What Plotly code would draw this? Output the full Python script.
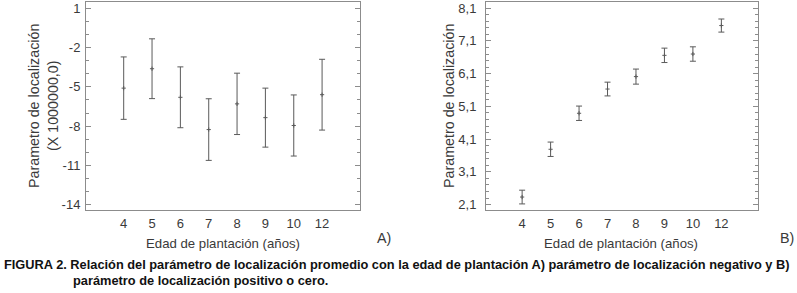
import plotly.graph_objects as go

ages = ["4", "5", "6", "7", "8", "9", "10", "12"]
neg_mean = [-5.10, -3.62, -5.80, -8.26, -6.30, -7.35, -7.95, -5.60]
neg_err = [2.38, 2.28, 2.32, 2.35, 2.34, 2.25, 2.33, 2.70]
pos_mean = [2.33, 3.79, 4.89, 5.63, 6.01, 6.66, 6.70, 7.57]
pos_err = [0.21, 0.22, 0.22, 0.21, 0.23, 0.22, 0.22, 0.20]
neg_ticks = [1, -2, -5, -8, -11, -14]
neg_labels = ["1", "-2", "-5", "-8", "-11", "-14"]
pos_ticks = [2.1, 3.1, 4.1, 5.1, 6.1, 7.1, 8.1]
pos_labels = ["2,1", "3,1", "4,1", "5,1", "6,1", "7,1", "8,1"]

W, H = 797, 293
def px(x): return x / W
def py(y): return (H - y) / H

fig = go.Figure()
bar_col = "#5a5a5a"
for m, e, ax in [(neg_mean, neg_err, ("x", "y")), (pos_mean, pos_err, ("x2", "y2"))]:
    fig.add_trace(go.Scatter(
        x=ages, y=m, mode="markers", xaxis=ax[0], yaxis=ax[1],
        marker=dict(symbol="cross-thin", size=3, color=bar_col, line=dict(width=1, color=bar_col)),
        error_y=dict(type="data", array=e, visible=True, color=bar_col, thickness=1, width=3),
        showlegend=False, hoverinfo="skip"))

axcol = "#8c8c8c"
txtcol = "#3a3a3a"
font_main = "Liberation Sans, Arial, sans-serif"
tickfont = dict(family=font_main, size=13, color=txtcol)
common_x = dict(type="category", showline=True, linecolor=axcol, linewidth=1, mirror=True,
                ticks="", showgrid=False, zeroline=False, tickfont=tickfont, ticklabelstandoff=2,
                ticklabeloverflow="allow")
common_y = dict(showline=True, linecolor=axcol, linewidth=1, mirror="ticks",
                ticks="inside", ticklen=5, tickcolor=axcol, showgrid=False, zeroline=False,
                tickfont=tickfont, ticklabeloverflow="allow")

fig.update_layout(
    width=W, height=H, margin=dict(l=0, r=0, t=0, b=0),
    paper_bgcolor="white", plot_bgcolor="white",
    xaxis=dict(common_x, domain=[px(86), px(359.5)], range=[-1.33, 8.32], anchor="y"),
    yaxis=dict(common_y, domain=[py(211.7), py(1)], range=[-14.38, 1.47], anchor="x",
               tickvals=neg_ticks, ticktext=neg_labels, ticklabelstandoff=2,
               minor=dict(ticks="inside", ticklen=3, dtick=1, tickcolor=axcol, tick0=1, showgrid=False)),
    xaxis2=dict(common_x, domain=[px(486), px(757.5)], range=[-1.27, 8.27], anchor="y2"),
    yaxis2=dict(common_y, domain=[py(211.7), py(1)], range=[1.94, 8.29], anchor="x2",
                tickvals=pos_ticks, ticktext=pos_labels, ticklabelstandoff=6,
                minor=dict(ticks="inside", ticklen=3, dtick=0.2, tick0=2.1, tickcolor=axcol, showgrid=False)),
)

tf = dict(family=font_main, size=13.2, color=txtcol)
tfy = dict(family=font_main, size=14.3, color=txtcol)
ann = []
ann.append(dict(x=px(222.8), y=py(245.7), text="Edad de plantación (años)", font=tf))
ann.append(dict(x=px(621), y=py(245.7), text="Edad de plantación (años)", font=tf))
ann.append(dict(x=px(33.5), y=py(106), text="Parametro de localización", textangle=-90, font=tfy))
ann.append(dict(x=px(52.5), y=py(106), text="(X 1000000,0)", textangle=-90, font=tfy))
ann.append(dict(x=px(448.5), y=py(106), text="Parametro de localización", textangle=-90, font=tfy))
ann.append(dict(x=px(383.5), y=py(240), text="A)", font=tfy))
ann.append(dict(x=px(787), y=py(240), text="B)", font=tfy))
for a in ann:
    fig.add_annotation(xref="paper", yref="paper", showarrow=False, xanchor="center",
                       yanchor="middle", **a)

capfont = dict(family="Liberation Sans, Arial, sans-serif", size=12.8, color="#111111")
fig.add_annotation(xref="paper", yref="paper", x=px(3), y=py(267.5), xanchor="left", yanchor="middle",
                   showarrow=False, font=capfont, borderpad=0,
                   text="<b>FIGURA 2. Relación del parámetro de localización promedio con la edad de plantación A) parámetro de localización negativo y B)</b>")
fig.add_annotation(xref="paper", yref="paper", x=px(72), y=py(283.5), xanchor="left", yanchor="middle",
                   showarrow=False, font=capfont, borderpad=0,
                   text="<b>parámetro de localización positivo o cero.</b>")

fig.write_html("out.html", config={"displayModeBar": False},
               post_script="document.body.style.margin='0';document.body.style.overflow='hidden';")
